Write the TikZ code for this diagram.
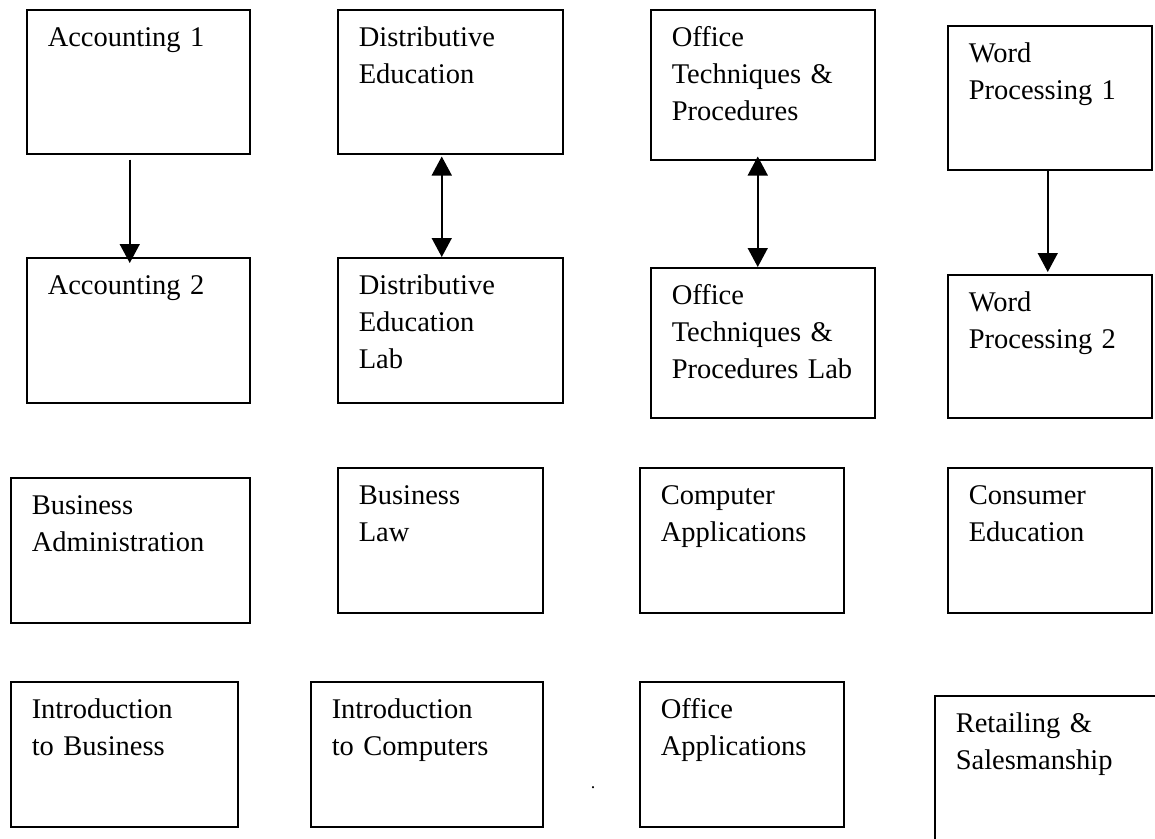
\documentclass[tikz,border=0pt]{standalone}
\usepackage{fontspec}
\setmainfont{Liberation Serif}
\usetikzlibrary{arrows.meta}

\begin{document}
\begin{tikzpicture}[>={Triangle[width=20pt,length=19pt]},x=1pt,y=-1pt,line width=1.5pt]
  \tikzstyle{every node}=[font=\fontsize{28.5}{37}\selectfont]
  \tikzstyle{course}=[draw, anchor=north west, align=left, inner xsep=21pt, inner ysep=0pt, text height=37pt]

  \useasboundingbox (0,0) rectangle (1155,838);
  \clip (0,0) rectangle (1155,838);
  \fill[white] (0,0) rectangle (1155,838);

  % first row
  \node[course, text width=181pt, text depth=107pt] (acc1)   at (26,9)   {Accounting 1};
  \node[course, text width=183pt, text depth=107pt] (dist)   at (337,9)  {Distributive\\Education};
  \node[course, text width=182pt, text depth=113pt] (office) at (650,9)  {Office\\Techniques \&\\Procedures};
  \node[course, text width=162pt, text depth=107pt] (word1)  at (947,25) {Word\\Processing 1};

  % second row
  \node[course, text width=181pt, text depth=108pt] (acc2)      at (26,257)  {Accounting 2};
  \node[course, text width=183pt, text depth=108pt] (distlab)   at (337,257) {Distributive\\Education\\Lab};
  \node[course, text width=182pt, text depth=113pt] (officelab) at (650,267) {Office\\Techniques \&\\Procedures Lab};
  \node[course, text width=162pt, text depth=106pt] (word2)     at (947,274) {Word\\Processing 2};

  % third row
  \node[course, text width=197pt, text depth=108pt] (busadmin) at (10,477)  {Business\\Administration};
  \node[course, text width=163pt, text depth=108pt] (buslaw)   at (337,467) {Business\\Law};
  \node[course, text width=162pt, text depth=108pt] (compapps) at (639,467) {Computer\\Applications};
  \node[course, text width=162pt, text depth=108pt] (consumer) at (947,467) {Consumer\\Education};

  % fourth row
  \node[course, text width=185pt, text depth=108pt] (introbus)   at (10,681)  {Introduction\\to Business};
  \node[course, text width=190pt, text depth=108pt] (introcomp)  at (310,681) {Introduction\\to Computers};
  \node[course, text width=162pt, text depth=108pt] (officeapps) at (639,681) {Office\\Applications};
  \node[course, text width=189pt, text depth=118pt] (retail)     at (934,695) {Retailing \&\\Salesmanship};

  \node[font=\fontsize{18}{18}\selectfont, inner sep=0pt, anchor=base] (dot) at (593,788) {.};

  \draw[->]  ([xshift=-8.5pt,yshift=-5pt]acc1.south) -- ([xshift=-8.5pt,yshift=-6pt]acc2.north);
  \draw[<->] ([xshift=-8.5pt,yshift=-2pt]dist.south) -- ([xshift=-8.5pt]distlab.north);
  \draw[<->] ([xshift=-5pt,yshift=4pt]office.south) -- ([xshift=-5pt]officelab.north);
  \draw[->]  ([xshift=-2pt]word1.south) -- ([xshift=-2pt,yshift=2pt]word2.north);
\end{tikzpicture}
\end{document}
